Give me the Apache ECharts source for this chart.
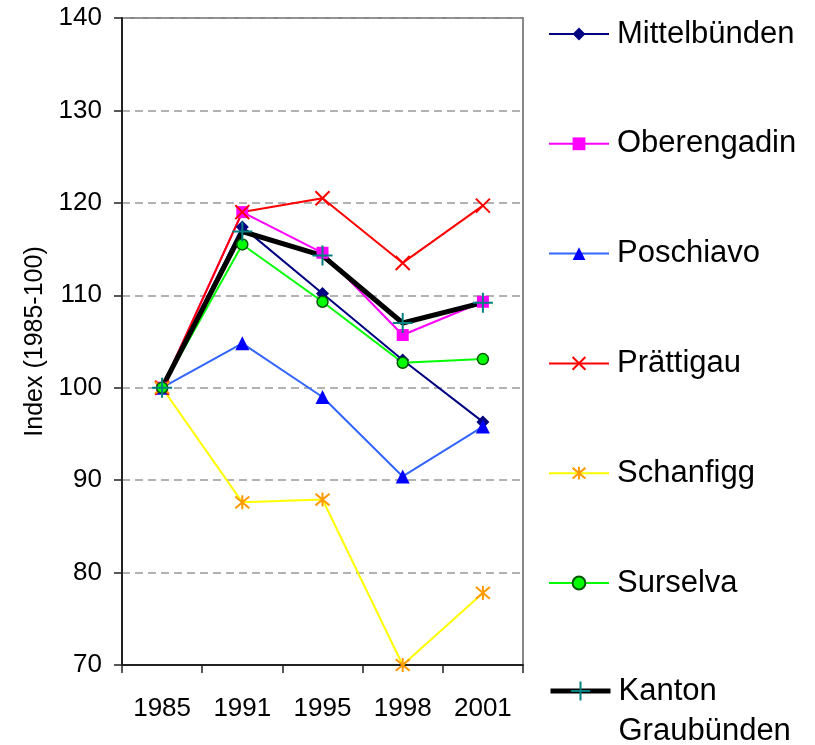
<!DOCTYPE html>
<html>
<head>
<meta charset="utf-8">
<script src="https://cdn.jsdelivr.net/npm/echarts@6/dist/echarts.min.js"></script>
<style>
  html, body { margin: 0; padding: 0; background: #fff; }
  #chart { width: 815px; height: 745px; }
</style>
</head>
<body>
<div id="chart"></div>
<script>
  const years = ['1985', '1991', '1995', '1998', '2001'];
  const yTicks = { min: 70, max: 140, interval: 10 };

  const mittelbuenden = [100, 117.4, 110.2, 103.0, 96.3];
  const oberengadin = [100, 119.0, 114.6, 105.7, 109.3];
  const poschiavo = [100, 104.8, 99.0, 90.4, 95.8];
  const praettigau = [100, 119.0, 120.5, 113.5, 119.7];
  const schanfigg = [100, 87.6, 87.9, 70.0, 77.8];
  const surselva = [100, 115.5, 109.3, 102.7, 103.1];
  const kanton = [100, 116.9, 114.3, 107.0, 109.2];

  const FONT = 'Liberation Sans, Arial, sans-serif';
  const CROSS = 'path://M0 0 L10 10 M10 0 L0 10';
  const STAR = 'path://M0 0 L10 10 M10 0 L0 10 M5 -1 L5 11';
  const PLUS = 'path://M5 0 L5 10 M0 5 L10 5';

  const chart = echarts.init(document.getElementById('chart'));

  const mkSeries = (name, data, lineColor, symbol, size, item) => ({
    name,
    type: 'line',
    data,
    symbol,
    symbolSize: size,
    lineStyle: { color: lineColor, width: 2 },
    itemStyle: item,
    emphasis: { disabled: true },
    animation: false
  });

  const series = [
    mkSeries('Mittelbünden', mittelbuenden, '#000080', 'diamond', 13, { color: '#000080' }),
    mkSeries('Oberengadin', oberengadin, '#FF00FF', 'rect', 12, { color: '#FF00FF' }),
    mkSeries('Poschiavo', poschiavo, '#3366FF', 'triangle', 14, { color: '#0000FF' }),
    mkSeries('Prättigau', praettigau, '#FF0000', CROSS, 14, { color: '#FF0000', borderColor: '#FF0000', borderWidth: 2 }),
    mkSeries('Schanfigg', schanfigg, '#FFFF00', STAR, 14, { color: '#FF9900', borderColor: '#FF9900', borderWidth: 2 }),
    mkSeries('Surselva', surselva, '#00FF00', 'circle', 11, { color: '#00FF00', borderColor: '#005500', borderWidth: 1.5 }),
    mkSeries('Kanton Graubünden', kanton, '#000000', PLUS, 20, { color: '#008080', borderColor: '#008080', borderWidth: 2 })
  ];
  series[6].lineStyle.width = 5;

  const legendText = { color: '#000', fontSize: 31, fontFamily: FONT, lineHeight: 34, padding: [0, 0, 0, 3] };

  chart.setOption({
    backgroundColor: '#fff',
    animation: false,
    grid: {
      left: 122,
      right: 292,
      top: 18,
      bottom: 80,
      show: true,
      borderColor: '#888',
      borderWidth: 2,
      backgroundColor: 'transparent'
    },
    legend: [
      {
        orient: 'vertical',
        left: 543,
        top: 12,
        itemWidth: 60,
        itemHeight: 16,
        itemGap: 75.8,
        selectedMode: false,
        textStyle: legendText,
        data: ['Mittelbünden', 'Oberengadin', 'Poschiavo', 'Prättigau', 'Schanfigg', 'Surselva']
      },
      {
        orient: 'vertical',
        left: 543,
        top: 626,
        itemWidth: 60,
        itemHeight: 24,
        selectedMode: false,
        lineStyle: { width: 5 },
        // empty first line so that "Kanton" sits level with the icon
        formatter: () => '\nKanton\nGraubünden',
        textStyle: Object.assign({}, legendText, { lineHeight: 40 }),
        data: ['Kanton Graubünden']
      }
    ],
    xAxis: {
      type: 'category',
      data: years,
      boundaryGap: true,
      axisLine: { lineStyle: { color: '#222', width: 2 } },
      axisTick: { show: true, length: 8, lineStyle: { color: '#222', width: 1.5 } },
      axisLabel: { color: '#000', fontSize: 26, fontFamily: FONT, margin: 31 },
      splitLine: { show: false }
    },
    yAxis: {
      type: 'value',
      min: yTicks.min,
      max: yTicks.max,
      interval: yTicks.interval,
      name: 'Index (1985-100)',
      nameLocation: 'middle',
      nameGap: 74,
      nameTextStyle: { color: '#000', fontSize: 25, fontFamily: FONT },
      axisLine: { show: true, lineStyle: { color: '#222', width: 2 } },
      axisTick: { show: true, length: 8, lineStyle: { color: '#222', width: 1.5 } },
      axisLabel: { color: '#000', fontSize: 26, fontFamily: FONT, margin: 20 },
      splitLine: { show: true, lineStyle: { color: '#999', type: [8, 5], width: 1.5 } }
    },
    series
  });
</script>
</body>
</html>
